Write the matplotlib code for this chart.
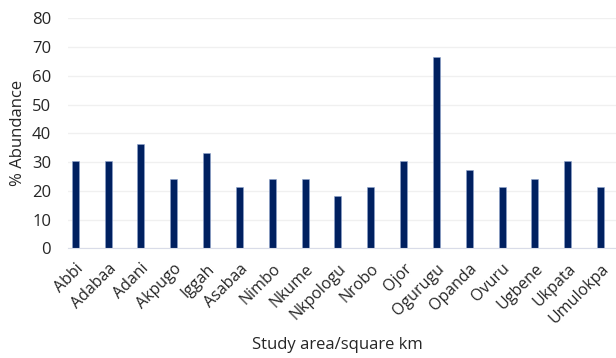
import matplotlib
matplotlib.use("Agg")
import matplotlib.pyplot as plt

categories = ["Abbi", "Adabaa", "Adani", "Akpugo", "Iggah", "Asabaa", "Nimbo", "Nkume",
              "Nkpologu", "Nrobo", "Ojor", "Ogurugu", "Opanda", "Ovuru", "Ugbene", "Ukpata", "Umulokpa"]
abundance = [30.3, 30.3, 36.4, 24.2, 33.3, 21.2, 24.2, 24.2, 18.2, 21.2, 30.3, 66.7, 27.3, 21.2, 24.2, 30.3, 21.2]
yticks = [0, 10, 20, 30, 40, 50, 60, 70, 80]

plt.rcParams['font.family'] = ['Open Sans', 'DejaVu Sans']
fig = plt.figure(figsize=(6.16, 3.58), dpi=100)
ax = fig.add_axes([0.110, 0.3064, 0.890, 0.6426])
x = list(range(len(categories)))
ax.bar(x, abundance, width=0.21, color="#002060", edgecolor="#8fa3cc", linewidth=0.4, zorder=3)
ax.set_xlim(-0.229, 16.47)
ax.set_ylim(0, 80)
ax.set_yticks(yticks)
ax.set_xticks(x)
ax.set_xticklabels(categories, rotation=45, ha="right", rotation_mode="anchor", fontsize=11.5, color="#262626")
ax.tick_params(axis="y", labelsize=12, labelcolor="#262626", length=0, pad=12)
ax.tick_params(axis="x", length=0, pad=9)
ax.grid(axis="y", color="#f0f0f0", linewidth=1, zorder=0)
for s in ["top", "right", "left"]:
    ax.spines[s].set_visible(False)
ax.spines["bottom"].set_color("#d9dce8")
ax.spines["bottom"].set_zorder(4)
ax.set_ylabel("% Abundance", fontsize=12, color="#262626", labelpad=4)
fig.text(337 / 616, 1 - 345 / 358, "Study area/square km", fontsize=12, color="#262626",
         ha="center", va="center")
fig.savefig("out.png", dpi=100)
